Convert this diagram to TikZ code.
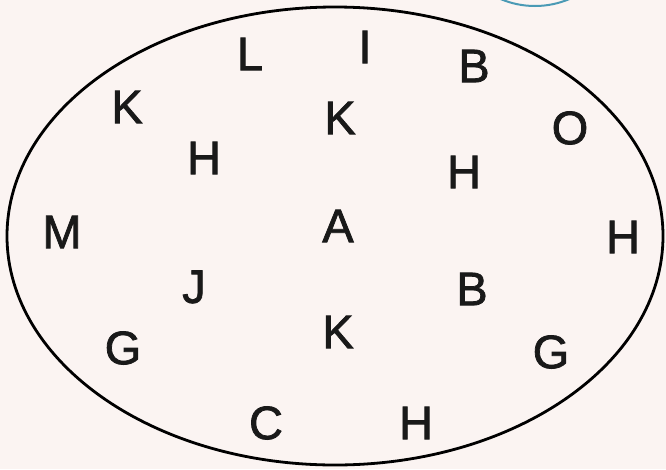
\documentclass[tikz,border=0pt]{standalone}
\usepackage{fontspec}
\setmainfont{Liberation Sans}
\newfontfamily\letterfont[FakeBold=1.6]{Liberation Sans}
\usepackage{tikz}
\usetikzlibrary{positioning}
\usepackage{xcolor}
\definecolor{paper}{HTML}{FBF4F2}
\definecolor{ringblue}{HTML}{4A9AB5}

\tikzset{letter/.style={inner sep=0pt,text=black!90,font=\letterfont\fontsize{47}{47}\selectfont}}

\begin{document}
\begin{tikzpicture}[x=1pt,y=-1pt]
  \fill[paper] (0,0) rectangle (666,469);
  \useasboundingbox (0,0) rectangle (666,469);
  \draw[ringblue,line width=2pt] (535,-82) circle (88);
  \draw[line width=2.8pt] (335,236) ellipse (328 and 229);
  \foreach \l/\x/\y/\n in {L/250/54/l1,I/365/47/i1,B/474/66/b1,K/127/107/k1,K/340/118/k2,
      O/570/128/o1,H/204/158/h1,H/464/172/h2,M/62/232/m1,A/338/226/a1,H/623/237/h3,
      J/194/287/j1,B/472/289/b2,K/338/332/k3,G/123/348/g1,G/551/352/g2,C/266/423/c1,H/416/423/h4}
    \node[letter] (\n) at (\x,\y) {\l};
\end{tikzpicture}
\end{document}
